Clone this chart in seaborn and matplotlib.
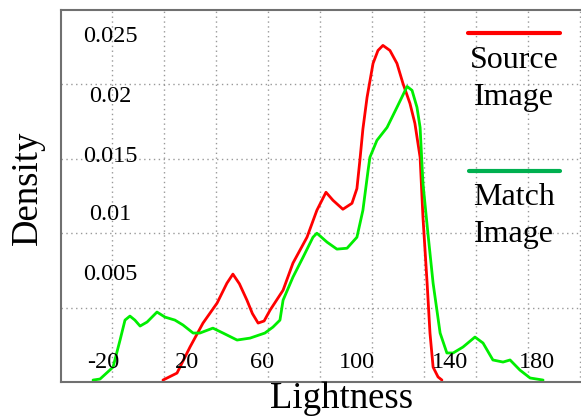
import numpy as np
import pandas as pd
import matplotlib
matplotlib.use("Agg")
import matplotlib.pyplot as plt
import seaborn as sns

# ---- data ----
source_x = [-0.4, 5.0, 10.0, 15.0, 20.4, 24.2, 26.5, 29.0, 31.9, 34.0, 36.2, 38.5, 40.8, 45.8, 49.6,
            55.0, 58.8, 62.3, 65.0, 68.8, 72.3, 74.2, 75.4, 76.5, 78.1, 80.4, 82.3, 84.2, 86.9,
            89.6, 91.9, 94.6, 96.5, 98.5, 99.6, 101.2, 102.3, 103.5, 105.4, 106.9]
source_y = [0.00013, 0.0006, 0.00235, 0.00396, 0.0053, 0.00664, 0.00725, 0.0066, 0.0055, 0.0046, 0.00396,
            0.00410, 0.00483, 0.00617, 0.00799, 0.00973, 0.01154, 0.01275, 0.01221, 0.01161,
            0.01201, 0.01300, 0.01500, 0.01700, 0.01913, 0.02141, 0.02228, 0.02262, 0.02228,
            0.02141, 0.02007, 0.01872, 0.01738, 0.0151, 0.01107, 0.00664, 0.00329, 0.001,
            0.00034, 0.00013]

match_x = [-27.3, -24.6, -19.6, -16.9, -15.0, -13.1, -11.2, -9.2, -6.5, -2.7, 0.4, 4.2, 7.3, 11.2,
           13.8, 18.8, 22.7, 28.1, 33.1, 38.8, 41.9, 44.6, 45.8, 49.6, 53.5, 57.3, 58.8, 62.7,
           66.5, 70.4, 74.2, 76.5, 78.5, 79.2, 81.9, 85.8, 89.6, 93.5, 95.4, 97.3, 98.5, 99.2,
           99.6, 101.5, 103.5, 106.2, 108.8, 111.2, 115.0, 119.6, 122.7, 126.5, 130.4, 133.1,
           136.9, 140.8, 145.8]
match_y = [0.00013, 0.0002, 0.001, 0.00282, 0.00416, 0.00443, 0.00416, 0.00376, 0.00403, 0.0047,
           0.00436, 0.00416, 0.00383, 0.00329, 0.00329, 0.00362, 0.00329, 0.00282, 0.00295,
           0.00329, 0.00369, 0.00416, 0.0055, 0.00705, 0.00839, 0.00973, 0.01, 0.0094, 0.00893,
           0.00899, 0.00973, 0.01154, 0.01423, 0.0151, 0.01624, 0.01711, 0.01846, 0.01986,
           0.0196, 0.01846, 0.01711, 0.0147, 0.01336, 0.01, 0.00664, 0.00329, 0.00195, 0.00195,
           0.00235, 0.00302, 0.00262, 0.00148, 0.00134, 0.00148, 0.0008, 0.00027, 0.00013]

x_tick_labels = ["-20", "20", "60", "100", "140", "180"]
y_tick_labels = ["0.025", "0.02", "0.015", "0.01", "0.005"]
series_names = ["Source Image", "Match Image"]

# ---- figure ----
W, H = 581, 418
sns.set_style("white")
plt.rcParams["font.family"] = ["Liberation Serif", "DejaVu Serif"]
plt.rcParams["text.color"] = "black"

fig = plt.figure(figsize=(W / 100, H / 100), dpi=100)

def fx(p):
    return p / W

def fy(q):
    return 1 - q / H

ax_left, ax_right, ax_top, ax_bottom = 61, 600, 10, 382
ax = fig.add_axes([fx(ax_left), fy(ax_bottom), (ax_right - ax_left) / W, (ax_bottom - ax_top) / H])

df = pd.concat([
    pd.DataFrame({"Lightness": source_x, "Density": source_y, "series": series_names[0]}),
    pd.DataFrame({"Lightness": match_x, "Density": match_y, "series": series_names[1]}),
])
sns.lineplot(data=df, x="Lightness", y="Density", hue="series",
             palette={series_names[0]: "#ff0000", series_names[1]: "#00ee00"},
             estimator=None, linewidth=2.0, legend=False, ax=ax)
for ln in ax.lines:
    ln.set_solid_joinstyle("round")
    ln.set_solid_capstyle("round")

# pixel -> data mapping: gridline every 20 units, 52 px apart, first at px 112
px_per_unit = 2.6
ax.set_xlim(-20 + (ax_left - 112) / px_per_unit, -20 + (ax_right - 112) / px_per_unit)
ax.set_ylim(0, 0.025)
ax.set_xticks(np.arange(-20, 161, 20))
ax.set_yticks([0.005, 0.01, 0.015, 0.02])
ax.set_xticklabels([])
ax.set_yticklabels([])
ax.tick_params(direction="in", length=4, color="#777777", width=1)
ax.grid(True, color="#999999", linestyle=(0, (1, 2.5)), linewidth=1.0)
ax.set_xlabel("")
ax.set_ylabel("")
for s in ["left", "top", "bottom"]:
    ax.spines[s].set_color("#707070")
    ax.spines[s].set_linewidth(1.5)
ax.spines["right"].set_visible(False)

# tick labels drawn inside the axes as in the reference
x_label_px = [103, 187, 262, 357, 450, 537]
for lab, p in zip(x_tick_labels, x_label_px):
    fig.text(fx(p), fy(362), lab, ha="center", va="center", fontsize=17.5, color="black")
y_label_py = [37, 96, 157, 215, 275]
for lab, q in zip(y_tick_labels, y_label_py):
    fig.text(fx(110), fy(q), lab, ha="center", va="center", fontsize=17.5, color="black")

fig.text(fx(342), fy(399), "Lightness", ha="center", va="center", fontsize=26.5, color="black")
fig.text(fx(28), fy(188), "Density", ha="center", va="center", rotation=90, fontsize=26.5, color="black")

# legend-like annotations
fig.add_artist(plt.Line2D([fx(468), fx(560)], [fy(33), fy(33)], color="#ff0000", linewidth=3))
fig.add_artist(plt.Line2D([fx(469), fx(560)], [fy(171), fy(171)], color="#00b050", linewidth=3))
fig.text(fx(514), fy(68), "Source", ha="center", va="baseline", fontsize=23, color="black")
fig.text(fx(514), fy(105), "Image", ha="center", va="baseline", fontsize=23, color="black")
fig.text(fx(514), fy(205), "Match", ha="center", va="baseline", fontsize=23, color="black")
fig.text(fx(514), fy(242), "Image", ha="center", va="baseline", fontsize=23, color="black")

fig.savefig("out.png", dpi=100)
